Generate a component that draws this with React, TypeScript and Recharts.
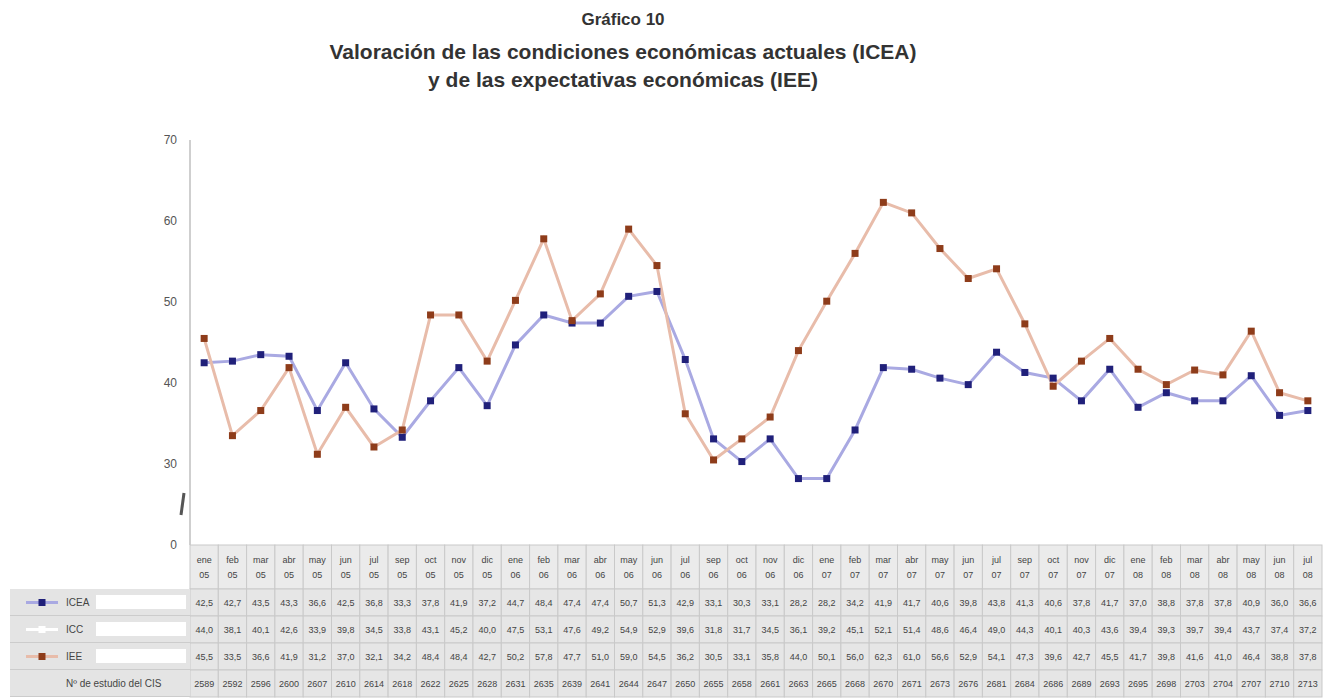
import React from 'react';
import { LineChart, Line, XAxis, YAxis } from 'recharts';

// barómetros mensuales (sin agosto)
const months = [
  'ene', 'feb', 'mar', 'abr', 'may', 'jun', 'jul', 'sep', 'oct', 'nov', 'dic',
  'ene', 'feb', 'mar', 'abr', 'may', 'jun', 'jul', 'sep', 'oct', 'nov', 'dic',
  'ene', 'feb', 'mar', 'abr', 'may', 'jun', 'jul', 'sep', 'oct', 'nov', 'dic',
  'ene', 'feb', 'mar', 'abr', 'may', 'jun', 'jul',
];
const years = [
  '05', '05', '05', '05', '05', '05', '05', '05', '05', '05', '05',
  '06', '06', '06', '06', '06', '06', '06', '06', '06', '06', '06',
  '07', '07', '07', '07', '07', '07', '07', '07', '07', '07', '07',
  '08', '08', '08', '08', '08', '08', '08',
];
const icea = [
  42.5, 42.7, 43.5, 43.3, 36.6, 42.5, 36.8, 33.3, 37.8, 41.9, 37.2, 44.7, 48.4, 47.4,
  47.4, 50.7, 51.3, 42.9, 33.1, 30.3, 33.1, 28.2, 28.2, 34.2, 41.9, 41.7, 40.6, 39.8,
  43.8, 41.3, 40.6, 37.8, 41.7, 37.0, 38.8, 37.8, 37.8, 40.9, 36.0, 36.6,
];
const icc = [
  44.0, 38.1, 40.1, 42.6, 33.9, 39.8, 34.5, 33.8, 43.1, 45.2, 40.0, 47.5, 53.1, 47.6,
  49.2, 54.9, 52.9, 39.6, 31.8, 31.7, 34.5, 36.1, 39.2, 45.1, 52.1, 51.4, 48.6, 46.4,
  49.0, 44.3, 40.1, 40.3, 43.6, 39.4, 39.3, 39.7, 39.4, 43.7, 37.4, 37.2,
];
const iee = [
  45.5, 33.5, 36.6, 41.9, 31.2, 37.0, 32.1, 34.2, 48.4, 48.4, 42.7, 50.2, 57.8, 47.7,
  51.0, 59.0, 54.5, 36.2, 30.5, 33.1, 35.8, 44.0, 50.1, 56.0, 62.3, 61.0, 56.6, 52.9,
  54.1, 47.3, 39.6, 42.7, 45.5, 41.7, 39.8, 41.6, 41.0, 46.4, 38.8, 37.8,
];
const studies = [
  '2589', '2592', '2596', '2600', '2607', '2610', '2614', '2618', '2622', '2625',
  '2628', '2631', '2635', '2639', '2641', '2644', '2647', '2650', '2655', '2658',
  '2661', '2663', '2665', '2668', '2670', '2671', '2673', '2676', '2681', '2684',
  '2686', '2689', '2693', '2695', '2698', '2703', '2704', '2707', '2710', '2713',
];
const yTicks = [20, 30, 40, 50, 60, 70];

const CHART_W = 1329;
const CHART_H = 691;
const margin = { top: 132, right: 15, bottom: 0, left: 0 };
const Y_AXIS_W = 182;
const X_AXIS_H = 154;
const PLOT_W = CHART_W - margin.left - margin.right - Y_AXIS_W;
const COL_W = PLOT_W / months.length;
const HEADER_H = 44;
const ROW_H = 27;

const FONT = '"Liberation Sans", Arial, sans-serif';
const BLUE_LINE = '#a9a9e2';
const BLUE_DOT = '#20207a';
const ORANGE_LINE = '#e8bcaa';
const ORANGE_DOT = '#8e3c1a';

const data = months.map((m, i) => ({ col: i, icea: icea[i], iee: iee[i] }));

const fmt = (v: number) => v.toFixed(1).replace('.', ',');

const rows = [
  (i: number) => fmt(icea[i]),
  (i: number) => fmt(icc[i]),
  (i: number) => fmt(iee[i]),
  (i: number) => studies[i],
];

function TableTick({ x, y, payload }: any) {
  const i = Number(payload.value);
  const left = x - COL_W / 2;
  return (
    <g fontFamily={FONT} fontSize={9} fill="#444">
      <rect x={left} y={y} width={COL_W} height={HEADER_H} fill="#ebebeb" stroke="#c9c9c9" />
      <text x={x} y={y + 18} textAnchor="middle">{months[i]}</text>
      <text x={x} y={y + 33} textAnchor="middle">{years[i]}</text>
      {rows.map((get, r) => {
        const top = y + HEADER_H + r * ROW_H;
        return (
          <g key={r}>
            <rect x={left} y={top} width={COL_W} height={ROW_H} fill="#e6e6e6" stroke="#c9c9c9" />
            <text x={x} y={top + ROW_H / 2 + 3} textAnchor="middle">{get(i)}</text>
          </g>
        );
      })}
    </g>
  );
}

function ValueTick({ y, payload }: any) {
  const axisX = margin.left + Y_AXIS_W;
  const v = payload.value;
  return (
    <g>
      <text x={axisX - 13} y={y} dy="0.35em" textAnchor="end" fontFamily={FONT} fontSize={12} fill="#555">
        {v === 20 ? '0' : v}
      </text>
      {v === 20 && (
        <path
          d={`M${axisX - 9} ${y - 30} L${axisX - 6} ${y - 52}`}
          stroke="#555"
          strokeWidth={3}
        />
      )}
    </g>
  );
}

const squareDot = (fill: string) => (props: any) => {
  const { cx, cy, index } = props;
  if (cx == null || cy == null) return <g key={index} />;
  return <rect key={index} x={cx - 3.5} y={cy - 3.5} width={7} height={7} fill={fill} />;
};

const legendRows = [
  { label: 'ICEA', line: BLUE_LINE, dot: BLUE_DOT, box: true },
  { label: 'ICC', line: '#ffffff', dot: '#ffffff', box: true },
  { label: 'IEE', line: ORANGE_LINE, dot: ORANGE_DOT, box: true },
  { label: 'Nº de estudio del CIS', line: null, dot: null, box: false },
];

export default function App() {
  return (
    <div style={{ position: 'relative', width: CHART_W, height: CHART_H, fontFamily: FONT }}>
      <div style={{ position: 'absolute', left: 0, width: 1230, top: 1, textAlign: 'center', color: '#333', fontWeight: 'bold' }}>
        <div style={{ fontSize: 17, lineHeight: '22px' }}>Gráfico 10</div>
        <div style={{ fontSize: 21, lineHeight: '28px', marginTop: 7 }}>
          Valoración de las condiciones económicas actuales (ICEA)
        </div>
        <div style={{ fontSize: 21, lineHeight: '28px' }}>y de las expectativas económicas (IEE)</div>
      </div>

      <LineChart width={CHART_W} height={CHART_H} data={data} margin={margin}>
        <XAxis
          dataKey="col"
          height={X_AXIS_H}
          padding={{ left: COL_W / 2, right: COL_W / 2 }}
          axisLine={false}
          tickLine={false}
          tickSize={0}
          tickMargin={0}
          interval={0}
          tick={(props: any) => <TableTick {...props} />}
        />
        <YAxis
          width={Y_AXIS_W}
          domain={[20, 70]}
          ticks={yTicks}
          interval={0}
          tickLine={false}
          axisLine={{ stroke: '#cfcfcf', strokeWidth: 2 }}
          tick={(props: any) => <ValueTick {...props} />}
        />
        <Line
          dataKey="icea"
          stroke={BLUE_LINE}
          strokeWidth={3}
          dot={squareDot(BLUE_DOT)}
          activeDot={false}
          isAnimationActive={false}
        />
        <Line
          dataKey="iee"
          stroke={ORANGE_LINE}
          strokeWidth={3}
          dot={squareDot(ORANGE_DOT)}
          activeDot={false}
          isAnimationActive={false}
        />
      </LineChart>

      <div style={{ position: 'absolute', left: 2, top: margin.top + (CHART_H - margin.top - X_AXIS_H) + HEADER_H, width: 180 }}>
        {legendRows.map((r) => (
          <div
            key={r.label}
            style={{
              height: ROW_H,
              boxSizing: 'border-box',
              background: '#e4e4e4',
              borderBottom: '1px solid #cccccc',
              display: 'flex',
              alignItems: 'center',
              fontSize: 10,
              color: '#444',
            }}
          >
            <svg width={56} height={ROW_H} style={{ flex: 'none' }}>
              {r.line && (
                <>
                  <line x1={16} x2={48} y1={ROW_H / 2} y2={ROW_H / 2} stroke={r.line} strokeWidth={3} />
                  <rect x={28.5} y={ROW_H / 2 - 3.5} width={7} height={7} fill={r.dot} />
                </>
              )}
            </svg>
            <span style={{ width: r.box ? 30 : 'auto', whiteSpace: 'nowrap' }}>{r.label}</span>
            {r.box && <div style={{ flex: 1, height: 14, background: '#ffffff', marginRight: 4 }} />}
          </div>
        ))}
      </div>
    </div>
  );
}
